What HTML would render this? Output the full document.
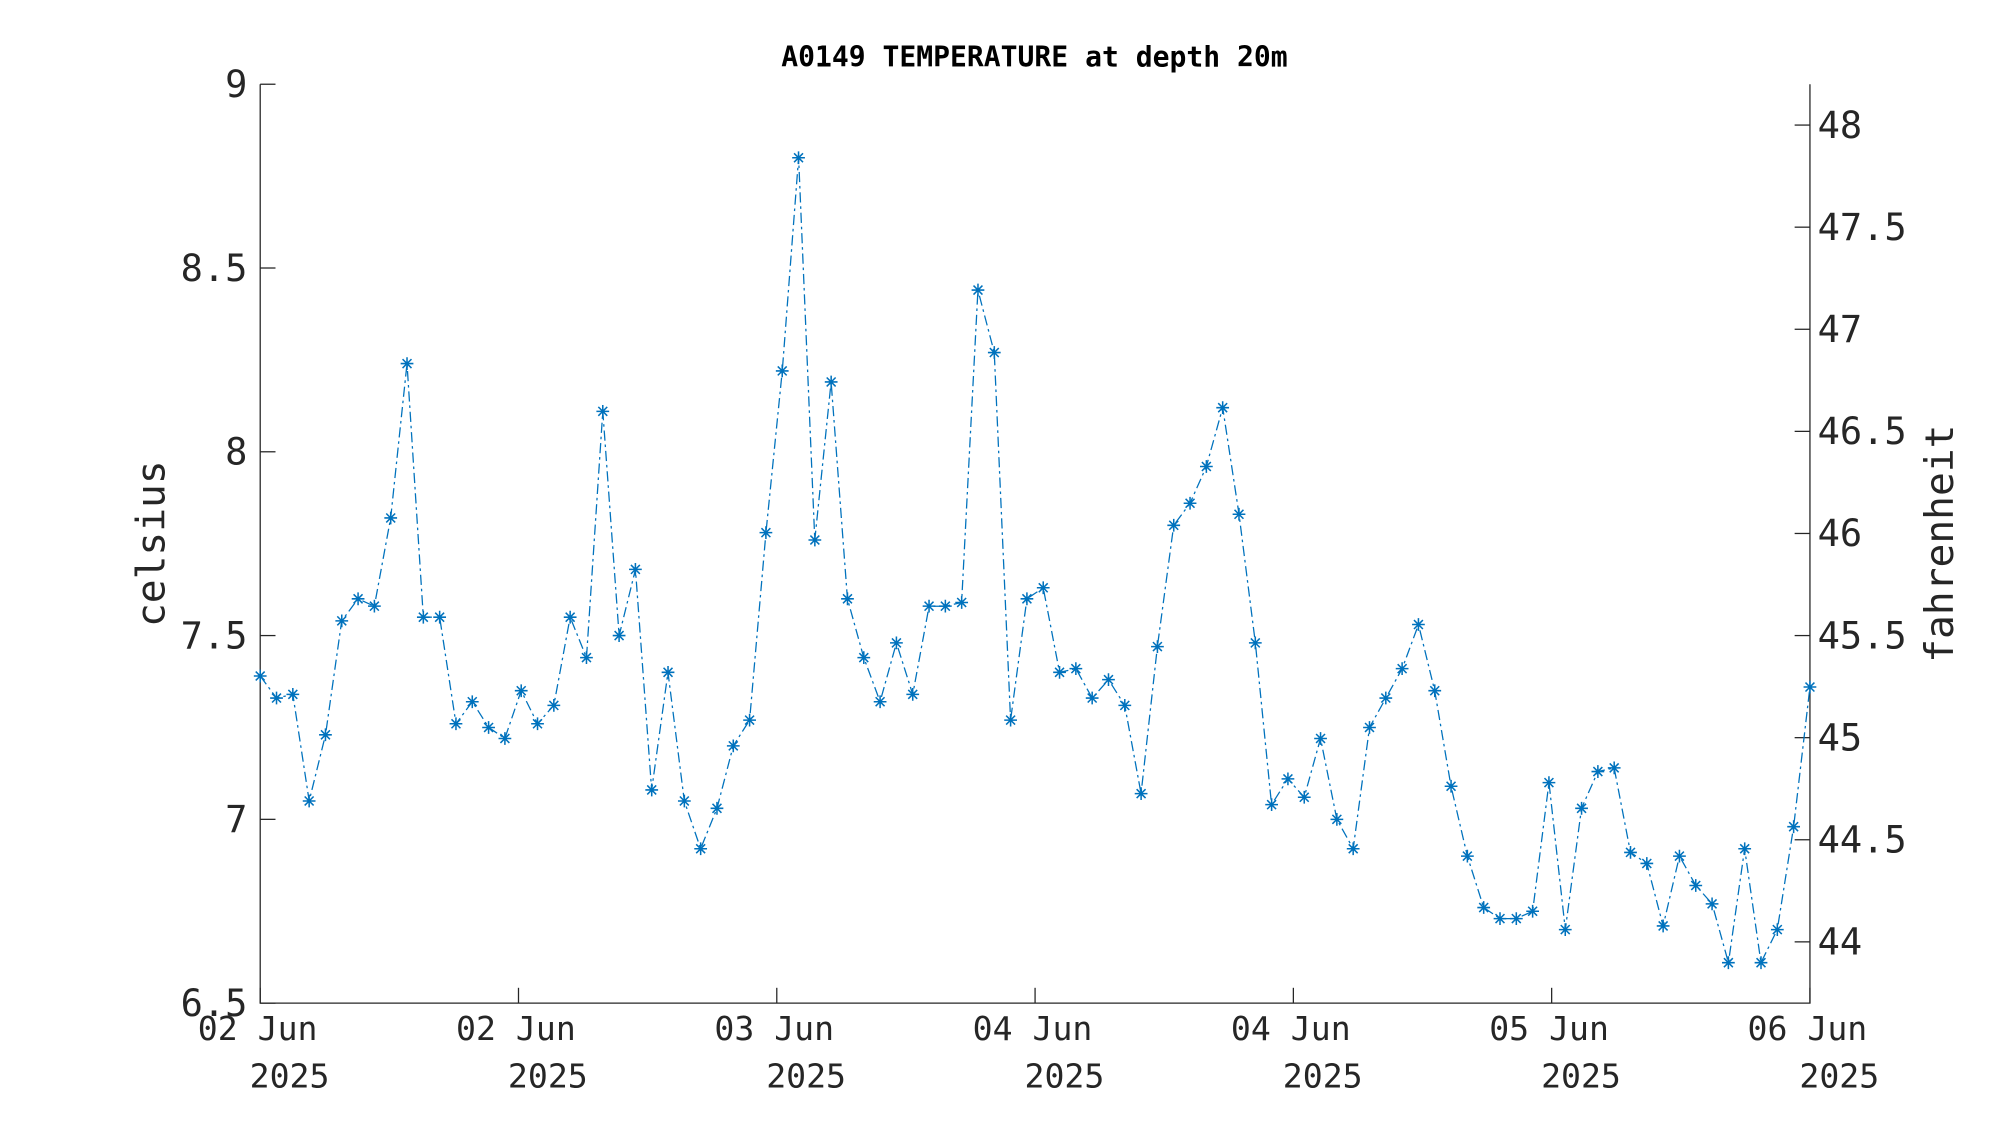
<!DOCTYPE html>
<html><head><meta charset="utf-8"><style>
html,body{margin:0;padding:0;background:#fff;}
svg{display:block;}
text{font-family:"DejaVu Sans Mono","Liberation Mono",monospace;fill:#262626;}
</style></head><body>
<svg id="chart" width="2000" height="1125" viewBox="0 0 1568 881.5" preserveAspectRatio="none" xmlns="http://www.w3.org/2000/svg">
<rect width="1568" height="882" fill="#fff"/>
<text x="811" y="52" text-anchor="middle" font-size="22" font-weight="bold" style="fill:#000">A0149 TEMPERATURE at depth 20m</text>
<g id="axes"></g>
<g id="series"></g>
<text transform="translate(129,426) rotate(-90)" text-anchor="middle" font-size="31">celsius</text>
<text transform="translate(1531,426) rotate(-90)" text-anchor="middle" font-size="31">fahrenheit</text>
</svg>
<script>
const temps = [7.39,7.33,7.34,7.05,7.23,7.54,7.60,7.58,7.82,8.24,7.55,7.55,7.26,7.32,7.25,7.22,7.35,7.26,7.31,7.55,7.44,8.11,7.50,7.68,7.08,7.40,7.05,6.92,7.03,7.20,7.27,7.78,8.22,8.80,7.76,8.19,7.60,7.44,7.32,7.48,7.34,7.58,7.58,7.59,8.44,8.27,7.27,7.60,7.63,7.40,7.41,7.33,7.38,7.31,7.07,7.47,7.80,7.86,7.96,8.12,7.83,7.48,7.04,7.11,7.06,7.22,7.00,6.92,7.25,7.33,7.41,7.53,7.35,7.09,6.90,6.76,6.73,6.73,6.75,7.10,6.70,7.03,7.13,7.14,6.91,6.88,6.71,6.90,6.82,6.77,6.61,6.92,6.61,6.70,6.98,7.36];
const celsiusTicks = [6.5,7,7.5,8,8.5,9];
const celsiusLabels = ["6.5","7","7.5","8","8.5","9"];
const fahrenheitTicks = [44,44.5,45,45.5,46,46.5,47,47.5,48];
const fahrenheitLabels = ["44","44.5","45","45.5","46","46.5","47","47.5","48"];
const dateTickFractions = [0,1/6,2/6,3/6,4/6,5/6,1];
const dateLabels = ["02 Jun","02 Jun","03 Jun","04 Jun","04 Jun","05 Jun","06 Jun"];
const yearLabel = "2025";

const L=204,R=1419,T=66,B=786;
const yMin=6.5,yMax=9;
const NS="http://www.w3.org/2000/svg";
function xIdx(i){return L+(R-L)*i/(temps.length-1);}
function xFrac(f){return L+(R-L)*f;}
function yC(v){return B-(v-yMin)/(yMax-yMin)*(B-T);}
function yF(f){return yC((f-32)/1.8);}
function mk(tag,attrs,parent){const e=document.createElementNS(NS,tag);for(const k in attrs)e.setAttribute(k,attrs[k]);parent.appendChild(e);return e;}
const axes=document.getElementById('axes');
const series=document.getElementById('series');
let ax=mk('path',{d:`M${L},${T}V${B}H${R}V${T}`,fill:'none',stroke:'#262626','stroke-width':1},axes);


celsiusTicks.forEach((v,i)=>{
  const y=yC(v);
  mk('line',{x1:L,x2:L+12,y1:y,y2:y,stroke:'#262626'},axes);
  const t=mk('text',{x:L-10,y:y+10,'text-anchor':'end','font-size':29},axes);
  t.textContent=celsiusLabels[i];
  
  
});
fahrenheitTicks.forEach((v,i)=>{
  const y=yF(v);
  mk('line',{x1:R-12,x2:R,y1:y,y2:y,stroke:'#262626'},axes);
  const t=mk('text',{x:R+6,y:y+10,'text-anchor':'start','font-size':29},axes);
  t.textContent=fahrenheitLabels[i];
  
  
});
dateTickFractions.forEach((f,i)=>{
  const x=xFrac(f);
  mk('line',{x1:x,x2:x,y1:B,y2:B-12,stroke:'#262626'},axes);
  const t=mk('text',{x:x-2,y:B+29,'text-anchor':'middle','font-size':26},axes);
  t.textContent=dateLabels[i];
  
  
  const t2=mk('text',{x:x+23,y:B+66,'text-anchor':'middle','font-size':26},axes);
  t2.textContent=yearLabel;
  
  
});
const pts=temps.map((v,i)=>[xIdx(i),yC(v)]);
const line=mk('path',{d:'M'+pts.map(p=>p[0].toFixed(1)+','+p[1].toFixed(1)).join('L'),fill:'none',stroke:'#0072BD','stroke-width':1,'stroke-dasharray':'8,3,2,3'},series);


pts.forEach(p=>{
  const s=5,d=3.5;
  const m=mk('path',{d:`M${p[0]-s},${p[1]}H${p[0]+s}M${p[0]},${p[1]-s}V${p[1]+s}M${p[0]-d},${p[1]-d}L${p[0]+d},${p[1]+d}M${p[0]-d},${p[1]+d}L${p[0]+d},${p[1]-d}`,stroke:'#0072BD','stroke-width':1.2,fill:'none'},series);
  
  
});
</script>
</body></html>
